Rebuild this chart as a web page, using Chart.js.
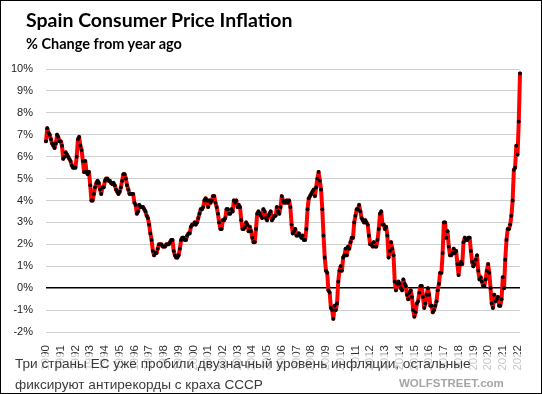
<!DOCTYPE html>
<html>
<head>
<meta charset="utf-8">
<script src="https://cdn.jsdelivr.net/npm/chart.js@4.4.1/dist/chart.umd.min.js"></script>
<style>
    html, body { margin: 0; padding: 0; background: #fff; }
    #wrap { position: relative; width: 542px; height: 394px; box-sizing: border-box; border: 1px solid #000; overflow: hidden; }
    #chart { position: absolute; left: -1px; top: -1px; }
    .title { position: absolute; left: 25px; top: 7px; font: bold 19.5px Lato, sans-serif; color: #000; white-space: nowrap; }
    .subtitle { position: absolute; left: 25px; top: 34px; font: bold 14.5px Lato, sans-serif; color: #000; white-space: nowrap; }
    .band { position: absolute; left: 0; right: 0; top: 353px; bottom: 0; background: rgba(255, 255, 255, 0.72); }
    .note { position: absolute; left: 14px; top: 352px; font: 13.6px "Liberation Sans", Arial, sans-serif; color: #3a3a3a; line-height: 21px; white-space: nowrap; }
    .source { position: absolute; left: 398px; top: 376px; font: bold 11.5px "Liberation Sans", Arial, sans-serif; color: #a6a6a6; white-space: nowrap; }
</style>
</head>
<body>
<div id="wrap">
    <canvas id="chart" width="542" height="394"></canvas>
    <div class="title">Spain Consumer Price Inflation</div>
    <div class="subtitle">% Change from year ago</div>
    <div class="band"></div>
    <div class="note">Три страны ЕС уже пробили двузначный уровень инфляции, остальные<br>фиксируют антирекорды с краха СССР</div>
    <div class="source">WOLFSTREET.com</div>
</div>
<script>
// monthly CPI, % change y/y, Jan 1990 .. Mar 2022
const startYear = 1990;
const cpi1990s = [
    6.7, 7.3, 7.1, 7.0, 6.8, 6.6, 6.5, 6.4, 6.6, 7.0, 6.9, 6.7,   // 1990
    6.7, 6.5, 5.9, 6.0, 6.2, 6.1, 6.0, 5.9, 5.8, 5.6, 5.5, 5.5,   // 1991
    5.5, 6.0, 6.8, 6.9, 6.5, 6.3, 5.8, 5.3, 5.8, 5.3, 5.2, 5.3,   // 1992
    4.7, 4.0, 4.0, 4.3, 4.6, 4.8, 4.9, 4.8, 4.5, 4.3, 4.6, 4.6,   // 1993
    4.9, 5.0, 5.0, 4.9, 4.9, 4.8, 4.75, 4.8, 4.7, 4.5, 4.4, 4.3,  // 1994
    4.4, 4.6, 4.9, 5.2, 5.2, 5.0, 4.7, 4.5, 4.3, 4.3, 4.3, 4.3,   // 1995
    3.9, 3.8, 3.4, 3.5, 3.8, 3.7, 3.7, 3.7, 3.6, 3.5, 3.3, 3.2,   // 1996
    2.9, 2.5, 2.2, 1.7, 1.5, 1.6, 1.6, 1.8, 2.0, 2.0, 2.0, 1.9,   // 1997
    1.9, 1.9, 2.0, 2.0, 2.0, 2.1, 2.2, 2.2, 1.7, 1.5, 1.4, 1.4,   // 1998
    1.5, 1.8, 2.2, 2.3, 2.3, 2.2, 2.2, 2.4, 2.5, 2.5, 2.8, 2.9    // 1999
];
const cpi2000s = [
    2.9, 3.0, 2.9, 3.0, 3.2, 3.4, 3.6, 3.6, 3.7, 4.0, 4.1, 4.0,   // 2000
    3.7, 4.0, 3.9, 4.0, 4.2, 4.2, 3.9, 3.7, 3.4, 3.0, 2.7, 2.7,   // 2001
    3.1, 3.1, 3.2, 3.6, 3.6, 3.4, 3.4, 3.6, 3.5, 4.0, 3.9, 4.0,   // 2002
    3.7, 3.8, 3.7, 3.1, 2.7, 2.7, 2.8, 3.0, 2.9, 2.6, 2.8, 2.6,   // 2003
    2.3, 2.1, 2.1, 2.7, 3.4, 3.5, 3.4, 3.3, 3.2, 3.6, 3.5, 3.2,   // 2004
    3.1, 3.3, 3.4, 3.5, 3.1, 3.2, 3.3, 3.3, 3.7, 3.5, 3.4, 3.7,   // 2005
    4.2, 4.0, 3.9, 3.9, 4.0, 3.9, 4.0, 3.7, 2.9, 2.5, 2.6, 2.7,   // 2006
    2.4, 2.4, 2.5, 2.4, 2.3, 2.4, 2.2, 2.2, 2.7, 3.6, 4.1, 4.2,   // 2007
    4.3, 4.4, 4.5, 4.2, 4.6, 5.0, 5.3, 4.9, 4.5, 3.6, 2.4, 1.4,   // 2008
    0.8, 0.7, -0.1, -0.2, -0.9, -1.0, -1.4, -0.8, -1.0, -0.7, 0.3, 0.8  // 2009
];
const cpi2010s = [
    1.0, 0.8, 1.4, 1.5, 1.8, 1.5, 1.9, 1.8, 2.1, 2.3, 2.3, 3.0,   // 2010
    3.3, 3.6, 3.6, 3.8, 3.5, 3.2, 3.1, 3.0, 3.1, 3.0, 2.9, 2.4,   // 2011
    2.0, 2.0, 1.9, 2.1, 1.9, 1.9, 2.2, 2.7, 3.4, 3.5, 2.9, 2.9,   // 2012
    2.7, 2.8, 2.4, 1.4, 1.7, 2.1, 1.8, 1.5, 0.3, -0.1, 0.2, 0.3,  // 2013
    0.2, 0.0, -0.1, 0.4, 0.2, 0.1, -0.3, -0.5, -0.2, -0.1, -0.4, -1.0,  // 2014
    -1.3, -1.1, -0.7, -0.6, -0.2, 0.1, 0.1, -0.4, -0.9, -0.7, -0.3, 0.0, // 2015
    -0.3, -0.8, -0.8, -1.1, -1.0, -0.8, -0.6, -0.1, 0.2, 0.7, 0.7, 1.6,  // 2016
    3.0, 3.0, 2.3, 2.6, 1.9, 1.5, 1.5, 1.6, 1.8, 1.6, 1.7, 1.1,   // 2017
    0.6, 1.1, 1.2, 1.1, 2.1, 2.3, 2.2, 2.2, 2.3, 2.3, 1.7, 1.2,   // 2018
    1.0, 1.1, 1.3, 1.5, 0.8, 0.4, 0.5, 0.3, 0.1, 0.1, 0.4, 0.8    // 2019
];
const cpi2020s = [
    1.1, 0.7, 0.0, -0.7, -0.9, -0.3, -0.6, -0.5, -0.4, -0.8, -0.8, -0.5, // 2020
    0.5, 0.0, 1.3, 2.2, 2.7, 2.7, 2.9, 3.3, 4.0, 5.4, 5.5, 6.5,   // 2021
    6.1, 7.6, 9.8                                                 // 2022
];
const yTicks = [-2, -1, 0, 1, 2, 3, 4, 5, 6, 7, 8, 9, 10];

const values = cpi1990s.concat(cpi2000s, cpi2010s, cpi2020s);
const labels = values.map((v, i) => {
    const y = startYear + Math.floor(i / 12);
    const m = (i % 12) + 1;
    return y + '-' + (m < 10 ? '0' : '') + m;
});

new Chart(document.getElementById('chart'), {
    type: 'line',
    data: {
        labels: labels,
        datasets: [{
            data: values,
            borderColor: '#ff0000',
            borderWidth: 4,
            borderJoinStyle: 'round',
            borderCapStyle: 'round',
            tension: 0,
            pointRadius: 1.9,
            pointBackgroundColor: '#000',
            pointBorderWidth: 0,
            pointHoverRadius: 0
        }]
    },
    options: {
        responsive: false,
        animation: false,
        layout: { padding: { top: 69, right: 22, bottom: 0, left: 0 } },
        plugins: { legend: { display: false }, tooltip: { enabled: false } },
        scales: {
            x: {
                grid: { display: false },
                border: { display: false },
                afterFit: s => { s.height = 62; },
                ticks: {
                    autoSkip: false,
                    minRotation: 90,
                    maxRotation: 90,
                    padding: 5,
                    color: '#333',
                    font: { family: '"Liberation Sans", Arial', size: 11.5 },
                    callback: function (val) {
                        const l = this.getLabelForValue(val);
                        return l.endsWith('-01') ? l.slice(0, 4) : '';
                    }
                }
            },
            y: {
                min: yTicks[0],
                max: yTicks[yTicks.length - 1],
                afterFit: s => { s.width = 46; },
                afterBuildTicks: s => { s.ticks = yTicks.map(v => ({ value: v })); },
                border: { display: false },
                grid: {
                    drawTicks: false,
                    color: c => c.tick && c.tick.value === 0 ? '#000' : '#d0d0d0',
                    lineWidth: c => c.tick && c.tick.value === 0 ? 1.5 : 1
                },
                ticks: {
                    padding: 13,
                    color: '#222',
                    font: { family: '"Liberation Sans", Arial', size: 11 },
                    callback: v => v + '%'
                }
            }
        }
    }
});
</script>
</body>
</html>
